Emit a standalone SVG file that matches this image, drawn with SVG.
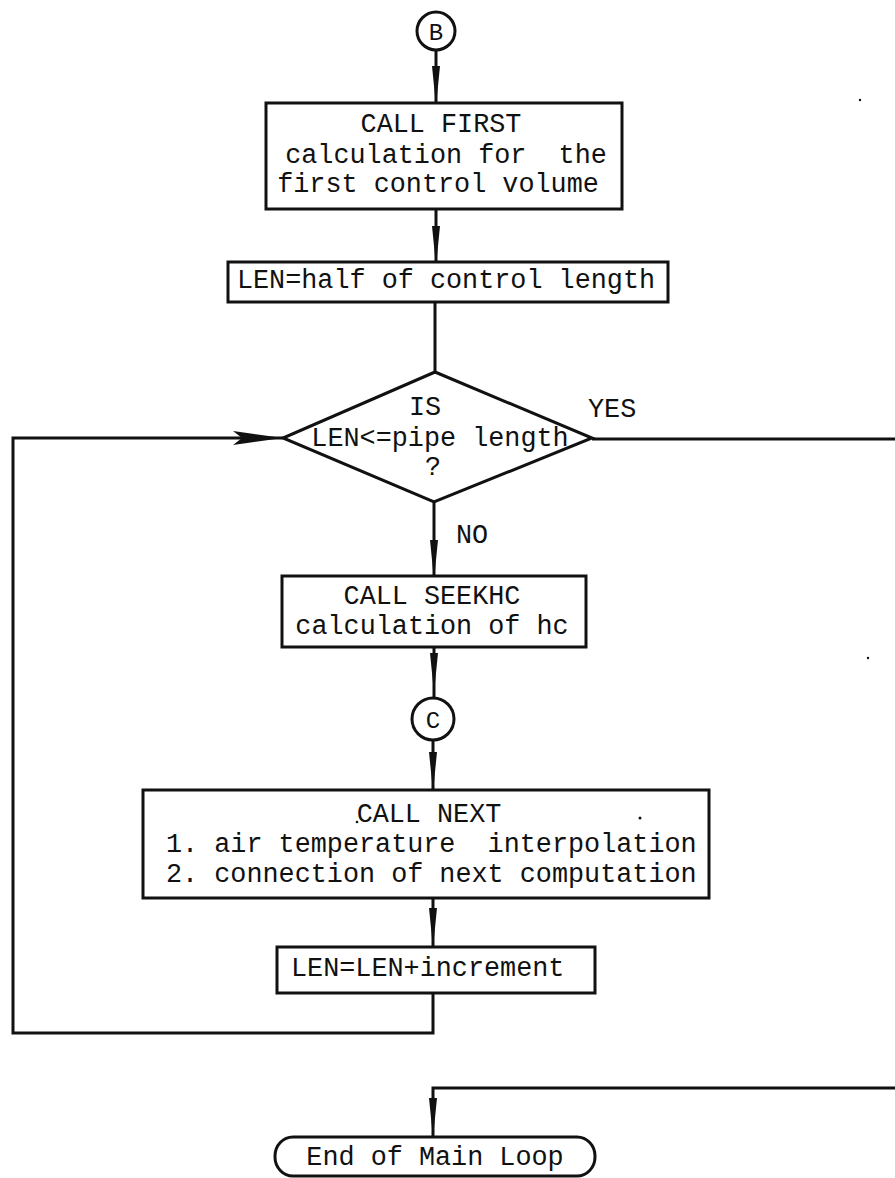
<svg xmlns="http://www.w3.org/2000/svg" width="895" height="1178" viewBox="0 0 895 1178">
  <style>
    .box { fill: #fff; stroke: #111; stroke-width: 3; }
    .ln { fill: none; stroke: #111; stroke-width: 3; stroke-linejoin: miter; }
    .wedge { fill: #111; stroke: none; }
    .t { font-family: "Liberation Mono", "DejaVu Sans Mono", monospace; font-size: 26.8px; fill: #111; }
    .c { text-anchor: middle; }
  </style>
  <defs>
    <!-- narrow downward wedge used on vertical flow lines -->
    <polygon id="down" points="-4,0 4,0 1,30 -1,30"/>
  </defs>

  <g id="connectors">
    <!-- B to CALL FIRST -->
    <line class="ln" x1="436" y1="50" x2="436" y2="103"/>
    <use href="#down" class="wedge" x="436" y="66"/>
    <!-- CALL FIRST to LEN -->
    <line class="ln" x1="436" y1="209" x2="436" y2="262"/>
    <use href="#down" class="wedge" x="436" y="226"/>
    <!-- LEN to decision -->
    <line class="ln" x1="435" y1="302" x2="435" y2="372"/>
    <!-- decision NO to SEEKHC -->
    <line class="ln" x1="434" y1="502" x2="434" y2="576"/>
    <use href="#down" class="wedge" x="434" y="540"/>
    <!-- SEEKHC to C -->
    <line class="ln" x1="434" y1="647" x2="434" y2="698"/>
    <use href="#down" class="wedge" x="434" y="653"/>
    <!-- C to NEXT -->
    <line class="ln" x1="433" y1="740" x2="433" y2="790"/>
    <use href="#down" class="wedge" x="433" y="752"/>
    <!-- NEXT to LEN=LEN+increment -->
    <line class="ln" x1="433" y1="898" x2="433" y2="947"/>
    <use href="#down" class="wedge" x="433" y="908"/>
    <!-- loop back to decision -->
    <polyline class="ln" points="433,993 433,1033 13,1033 13,438 283,438"/>
    <polygon class="wedge" points="233,431 283,438 233,445 242,438"/>
    <!-- YES exit -->
    <line class="ln" x1="592" y1="439" x2="895" y2="439"/>
    <!-- return to end -->
    <polyline class="ln" points="895,1088 433,1088 433,1137"/>
    <use href="#down" class="wedge" x="433" y="1098"/>
  </g>

  <g id="node-b">
    <circle class="box" cx="436" cy="31" r="19"/>
    <text class="t c" x="436" y="40" style="font-size:24px">B</text>
  </g>

  <g id="node-first">
    <rect class="box" x="266" y="103" width="356" height="106"/>
    <text class="t c" x="441" y="132">CALL FIRST</text>
    <text class="t c" x="446" y="163" xml:space="preserve">calculation for  the</text>
    <text class="t c" x="438" y="192">first control volume</text>
  </g>

  <g id="node-len">
    <rect class="box" x="228" y="262" width="440" height="40"/>
    <text class="t c" x="446" y="288">LEN=half of control length</text>
  </g>

  <g id="node-decision">
    <polygon class="box" points="435,372 592,438 434,502 283,438"/>
    <text class="t c" x="425" y="415">IS</text>
    <text class="t c" x="440" y="446">LEN&lt;=pipe length</text>
    <text class="t c" x="433" y="475">?</text>
  </g>

  <text class="t" x="588" y="417">YES</text>
  <text class="t" x="456" y="543">NO</text>

  <g id="node-seekhc">
    <rect class="box" x="282" y="576" width="304" height="71"/>
    <text class="t c" x="432" y="604">CALL SEEKHC</text>
    <text class="t c" x="432" y="634">calculation of hc</text>
  </g>

  <g id="node-c">
    <circle class="box" cx="433" cy="719" r="21"/>
    <text class="t c" x="433" y="728" style="font-size:24px">C</text>
  </g>

  <g id="node-next">
    <rect class="box" x="143" y="790" width="566" height="108"/>
    <text class="t c" x="429" y="822">CALL NEXT</text>
    <text class="t" x="166" y="852" xml:space="preserve">1. air temperature  interpolation</text>
    <text class="t" x="166" y="882">2. connection of next computation</text>
    <circle cx="357" cy="822" r="1.3" fill="#111"/>
    <circle cx="640" cy="818" r="1.5" fill="#111"/>
  </g>

  <g id="node-increment">
    <rect class="box" x="277" y="947" width="318" height="46"/>
    <text class="t" x="291" y="976">LEN=LEN+increment</text>
  </g>

  <g id="node-end">
    <rect class="box" x="275" y="1137" width="320" height="39" rx="18" ry="19"/>
    <text class="t c" x="435" y="1165">End of Main Loop</text>
  </g>

  <!-- specks -->
  <circle cx="860" cy="100" r="1.2" fill="#111"/>
  <circle cx="868" cy="658" r="1.2" fill="#111"/>
</svg>
